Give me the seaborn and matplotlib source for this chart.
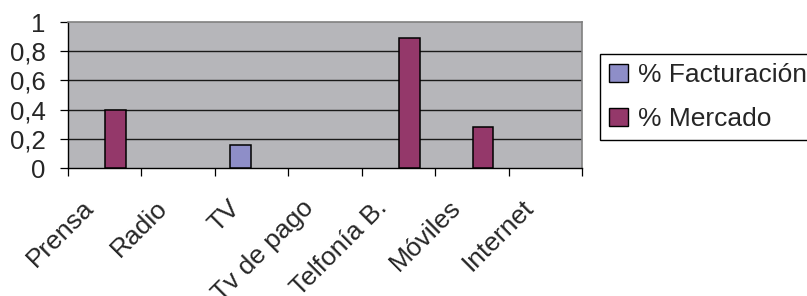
import numpy as np
import pandas as pd
import matplotlib
matplotlib.use("Agg")
import matplotlib.pyplot as plt
import matplotlib.transforms as mtransforms
from matplotlib.patches import Patch
import seaborn as sns

# datos (celdas vacías = NaN)
categorias = ["Prensa", "Radio", "TV", "Tv de pago", "Telfonía B.", "Móviles", "Internet"]
facturacion = [np.nan, np.nan, 0.155, np.nan, np.nan, np.nan, np.nan]
mercado = [0.395, np.nan, np.nan, np.nan, 0.89, 0.28, np.nan]
series = ["% Facturación", "% Mercado"]
colores = ["#8e8ec8", "#94386a"]
y_ticks = [0, 0.2, 0.4, 0.6, 0.8, 1]
y_labels = ["0", "0,2", "0,4", "0,6", "0,8", "1"]

df = pd.DataFrame({
    "categoria": categorias * 2,
    "serie": [series[0]] * len(categorias) + [series[1]] * len(categorias),
    "valor": facturacion + mercado,
})

sns.set_style("white")
plt.rcParams["font.family"] = ["Liberation Sans", "DejaVu Sans"]

fig = plt.figure(figsize=(8.07, 2.96), dpi=100)
ax = fig.add_axes([68 / 807, 128 / 296, 514 / 807, 146 / 296])
ax.set_facecolor("#b6b6ba")

sns.barplot(data=df, x="categoria", y="valor", hue="serie", hue_order=series,
            order=categorias, palette=colores, width=0.6, gap=0.07,
            edgecolor="black", linewidth=1.1, saturation=1, legend=False,
            zorder=3, ax=ax)

ax.set_xlim(-0.5, len(categorias) - 0.5)
ax.set_ylim(0, 1)
ax.set_xlabel("")
ax.set_ylabel("")

# rejilla
for y in y_ticks[1:-1]:
    ax.axhline(y, color="#1a1a1a", linewidth=1.0, zorder=1)

ax.set_yticks(y_ticks)
ax.set_yticklabels(y_labels, fontsize=18.5)
ax.tick_params(axis="y", length=6, width=0.9, color="black", pad=10, left=True)

ax.set_xticks(range(len(categorias)))
ax.set_xticks(np.arange(-0.5, len(categorias)), minor=True)
ax.set_xticklabels(categorias, fontsize=19, rotation=45, ha="right",
                   va="center", rotation_mode="anchor")
ax.tick_params(axis="x", which="major", length=0, pad=26)
ax.tick_params(axis="x", which="minor", length=6, width=0.9, color="black",
               bottom=True)
shift = mtransforms.ScaledTranslation(-15 / 100, 0, fig.dpi_scale_trans)
for lbl in ax.get_xticklabels():
    lbl.set_transform(lbl.get_transform() + shift)

for s in ["left", "bottom"]:
    ax.spines[s].set_color("black")
    ax.spines[s].set_linewidth(1)
for s in ["top", "right"]:
    ax.spines[s].set_color("#808080")
    ax.spines[s].set_linewidth(1.2)

handles = [Patch(facecolor=c, edgecolor="black", linewidth=1) for c in colores]
leg = fig.legend(handles, series, loc="upper left",
                 bbox_to_anchor=(600 / 807, 1 - 54 / 296), fontsize=19,
                 frameon=True, fancybox=False, edgecolor="black", framealpha=1,
                 handlelength=0.7, handleheight=0.7, handletextpad=0.4,
                 borderpad=0.35, labelspacing=0.75, borderaxespad=0)
leg.get_frame().set_linewidth(1)

fig.savefig("out.png", dpi=100)
